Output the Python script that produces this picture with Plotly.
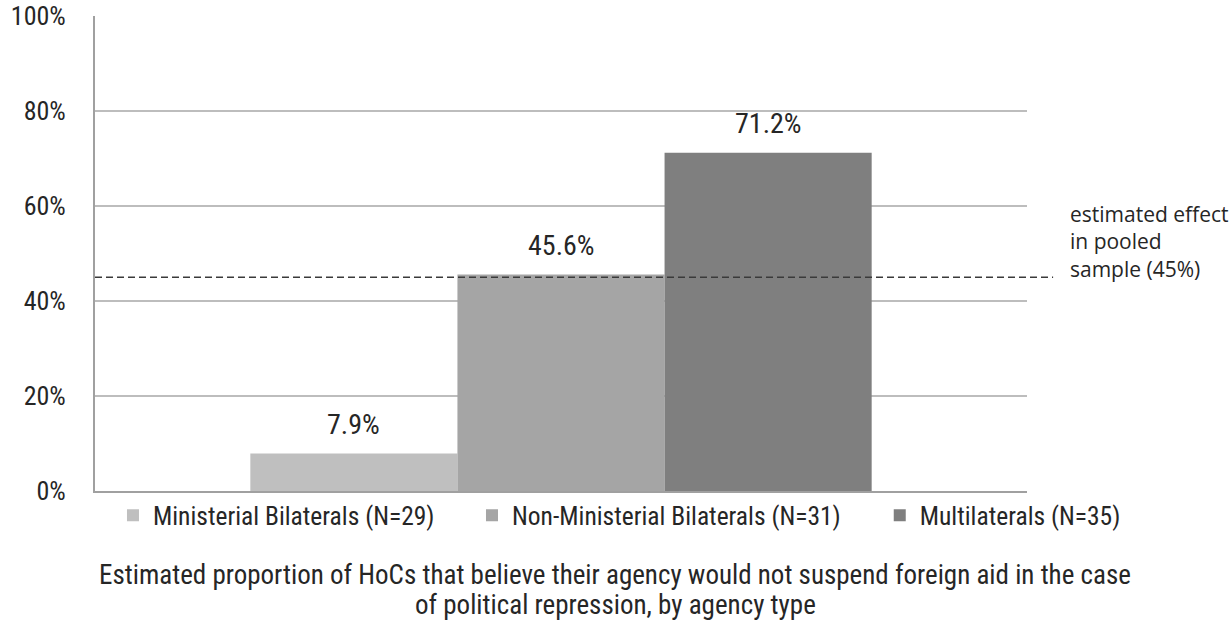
import plotly.graph_objects as go

# Agency types and estimated shares (%)
agency_types = ["Ministerial Bilaterals (N=29)",
                "Non-Ministerial Bilaterals (N=31)",
                "Multilaterals (N=35)"]
share_pct = [7.9, 45.6, 71.2]
bar_colors = ["#bfbfbf", "#a5a5a5", "#7f7f7f"]
pooled_effect = 45
y_ticks = [0, 20, 40, 60, 80, 100]
y_tick_labels = ["0%", "20%", "40%", "60%", "80%", "100%"]
caption_lines = [
    "Estimated proportion of HoCs that believe their agency would not suspend foreign aid in the case",
    "of political repression, by agency type",
]

FONT = "Roboto Condensed, DejaVu Sans Condensed, sans-serif"
TXT = "#262626"

W, H = 1232, 621
M = dict(l=95, r=205, t=16, b=130)
BARGAP = 1 / 3
plot_w = W - M["l"] - M["r"]
bar_px = plot_w * (1 - BARGAP) / len(share_pct)

# one single-entry legend per agency type, spread along the bottom
legend_x = [0.0193, 0.4045, 0.842]
legend_ids = ["legend", "legend2", "legend3"]

fig = go.Figure()
for name, val, col, lid in zip(agency_types, share_pct, bar_colors, legend_ids):
    fig.add_trace(go.Bar(
        x=[0], y=[val], name=name, legend=lid,
        marker=dict(color=col, line=dict(width=0)),
        hoverinfo="name+y",
    ))

# value labels above each bar
for i, val in enumerate(share_pct):
    fig.add_annotation(x=0, y=val, xref="x", yref="y", showarrow=False,
                       text=f"{val:.1f}%", yanchor="middle", yshift=29,
                       xshift=(i - (len(share_pct) - 1) / 2) * bar_px,
                       font=dict(family=FONT, size=28, color=TXT))

# pooled-sample reference line
fig.add_shape(type="line", xref="paper", yref="y",
              x0=0, x1=1.028, y0=pooled_effect, y1=pooled_effect,
              line=dict(color="#3a3a3a", width=1.5, dash="7px,4px"), layer="above")
fig.add_annotation(xref="paper", yref="paper", x=1.044, y=0.526,
                   xanchor="left", yanchor="middle", align="left", showarrow=False,
                   text=f"estimated effect<br>in pooled<br>sample ({pooled_effect}%)",
                   font=dict(family="Open Sans, DejaVu Sans, sans-serif", size=21, color=TXT))

# two-line caption under the chart
for line, yp in zip(caption_lines, [-0.1775, -0.2406]):
    fig.add_annotation(xref="paper", yref="paper", x=0.558, y=yp,
                       xanchor="center", yanchor="middle", showarrow=False,
                       text=line, font=dict(family=FONT, size=27, color=TXT))

legend_style = dict(orientation="h", y=-0.052, xanchor="left", yanchor="middle",
                    font=dict(family=FONT, size=25.5, color=TXT),
                    itemwidth=30, bgcolor="rgba(0,0,0,0)")

fig.update_layout(
    width=W, height=H, margin=M,
    template="none",
    paper_bgcolor="white", plot_bgcolor="white",
    barmode="group", bargap=BARGAP, bargroupgap=0,
    font=dict(family=FONT, size=25, color=TXT),
    showlegend=True,
    legend=dict(x=legend_x[0], **legend_style),
    legend2=dict(x=legend_x[1], **legend_style),
    legend3=dict(x=legend_x[2], **legend_style),
    xaxis=dict(range=[-0.5, 0.5], showticklabels=False, showgrid=False, showline=True,
               linecolor="#a0a0a0", linewidth=2, ticks="", zeroline=False,
               automargin=False),
    yaxis=dict(range=[0, 100], tickvals=y_ticks, ticktext=y_tick_labels,
               showgrid=True, gridcolor="#bdbdbd", gridwidth=2,
               showline=True, linecolor="#a0a0a0", linewidth=2,
               zeroline=False, ticks="", ticklen=0, ticklabelstandoff=22,
               automargin=False,
               tickfont=dict(family=FONT, size=26, color=TXT)),
)

fig.write_html("out.html")
